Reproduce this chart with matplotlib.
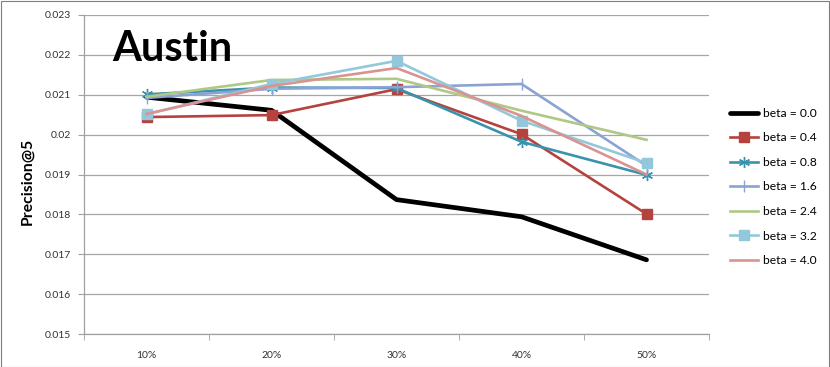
import numpy as np
import matplotlib
matplotlib.use("Agg")
import matplotlib.pyplot as plt
from matplotlib.patches import Rectangle

# data
categories = ["10%", "20%", "30%", "40%", "50%"]
series_labels = ["beta = 0.0", "beta = 0.4", "beta = 0.8", "beta = 1.6",
                 "beta = 2.4", "beta = 3.2", "beta = 4.0"]
beta_00 = [0.02094, 0.02061, 0.01837, 0.01794, 0.01686]
beta_04 = [0.02044, 0.02049, 0.02114, 0.02001, 0.01801]
beta_08 = [0.02101, 0.02118, 0.02117, 0.01982, 0.01899]
beta_16 = [0.02092, 0.02115, 0.02119, 0.02127, 0.01922]
beta_24 = [0.02095, 0.02137, 0.02140, 0.02060, 0.01987]
beta_32 = [0.02051, 0.02127, 0.02185, 0.02035, 0.01929]
beta_40 = [0.02052, 0.02122, 0.02167, 0.02047, 0.01900]
yticks = [0.015, 0.016, 0.017, 0.018, 0.019, 0.02, 0.021, 0.022, 0.023]
ytick_labels = ["0.015", "0.016", "0.017", "0.018", "0.019", "0.02", "0.021", "0.022", "0.023"]

plt.rcParams["font.family"] = ["Lato", "DejaVu Sans"]

fig = plt.figure(figsize=(8.3, 3.67), dpi=100)
ax = fig.add_axes([84 / 830, 33 / 367, 625 / 830, 319 / 367])

x = np.arange(len(categories))
styles = [
    dict(color="black", lw=3.4, marker=None, solid_capstyle="round"),
    dict(color="#B5423F", lw=1.9, marker="s", ms=6.5),
    dict(color="#3993AB", lw=1.9, marker=(6, 2, 0), ms=8, mew=1.0),
    dict(color="#8BA3D3", lw=1.9, marker="|", ms=8, mew=1.0),
    dict(color="#AFC886", lw=1.9, marker=None),
    dict(color="#92C8DA", lw=1.9, marker="s", ms=6.5),
    dict(color="#D99391", lw=1.9, marker=None),
]
all_series = [beta_00, beta_04, beta_08, beta_16, beta_24, beta_32, beta_40]
for vals, lab, st in zip(all_series, series_labels, styles):
    ax.plot(x, vals, label=lab, **st)

ax.set_xlim(-0.5, len(categories) - 0.5)
ax.set_ylim(0.015, 0.023)
ax.set_yticks(yticks)
ax.set_yticklabels(ytick_labels)
ax.set_xticks(x)
ax.set_xticklabels(categories)
ax.set_xticks(np.arange(-0.5, len(categories)), minor=True)
ax.tick_params(axis="x", which="major", length=0, labelsize=7.5, pad=12, colors="#333333")
ax.tick_params(axis="x", which="minor", length=4, color="#A0A0A0", direction="out")
ax.tick_params(axis="y", length=4.5, color="#A0A0A0", labelcolor="#333333",
               labelsize=7.5, pad=5)

ax.grid(axis="y", color="#A6A6A6", lw=0.9)
ax.set_axisbelow(True)
for side in ["top", "right"]:
    ax.spines[side].set_visible(False)
for side in ["left", "bottom"]:
    ax.spines[side].set_color("#A0A0A0")
    ax.spines[side].set_linewidth(0.9)

ax.set_ylabel("Precision@5", fontsize=11.3, fontweight="bold")
ax.yaxis.set_label_coords(-0.08, 0.48)
fig.text(112 / 830, 1 - 49 / 367, "Austin", fontsize=30, fontweight="bold",
         va="center", ha="left")

ax.legend(loc="upper left", bbox_to_anchor=(719 / 830, 1 - 97 / 367),
          bbox_transform=fig.transFigure, frameon=False, fontsize=8.7,
          handlelength=2.3, labelspacing=1.12, handletextpad=0.45)

fig.patches.append(Rectangle((0.5 / 830, 0.5 / 367), 828.5 / 830, 365.5 / 367,
                             transform=fig.transFigure, fill=False,
                             edgecolor="#7F7F7F", lw=0.8))

fig.savefig("out.png", dpi=100)
